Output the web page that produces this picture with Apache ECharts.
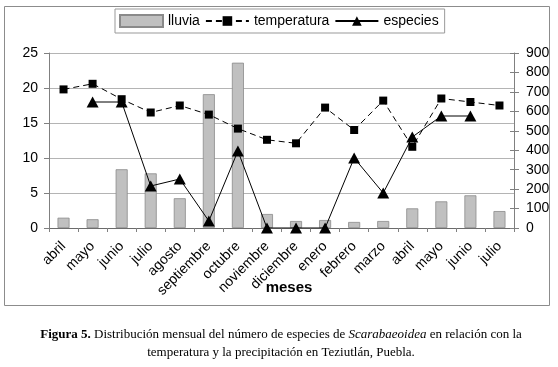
<!DOCTYPE html>
<html>
<head>
<meta charset="utf-8">
<script src="https://cdn.jsdelivr.net/npm/echarts@6/dist/echarts.min.js"></script>
<style>
html,body{margin:0;padding:0;background:#fff;}
#chart{width:558px;height:367px;}
</style>
</head>
<body>
<div id="chart"></div>
<script>
// ---- data ----
var categories = ['abril','mayo','junio','julio','agosto','septiembre','octubre','noviembre','diciembre','enero','febrero','marzo','abril','mayo','junio','julio'];
var lluvia = [53, 45, 302, 281, 153, 688, 850, 72, 36, 41, 31, 36, 101, 137, 168, 87];
var temperatura = [19.8, 20.6, 18.4, 16.5, 17.5, 16.2, 14.2, 12.6, 12.1, 17.2, 14.0, 18.2, 11.6, 18.5, 18.0, 17.5];
var especies = [null, 18, 18, 6, 7, 1, 11, 0, 0, 0, 10, 5, 13, 16, 16, null];
var seriesNames = ['lluvia', 'temperatura', 'especies'];
var axisName = 'meses';
var captionLine1 = '{b|Figura 5.} Distribución mensual del número de especies de {i|Scarabaeoidea} en relación con la';
var captionLine2 = 'temperatura y la precipitación en Teziutlán, Puebla.';

var SANS = '"Liberation Sans", Arial, sans-serif';
var SERIF = '"Liberation Serif", "Times New Roman", serif';

var chart = echarts.init(document.getElementById('chart'), null, {renderer: 'canvas'});
var option = {
  animation: false,
  backgroundColor: '#fff',
  textStyle: {fontFamily: SANS},
  grid: {left: 49, right: 44, top: 53, bottom: 139, containLabel: false},
  legend: {
    left: 115, top: 9,
    padding: [5, 6, 5, 4],
    itemGap: 5, itemWidth: 43, itemHeight: 12,
    borderColor: '#999', borderWidth: 1,
    textStyle: {fontSize: 14, fontFamily: SANS, color: '#000'},
    data: [{name: seriesNames[0], icon: 'rect'}, {name: seriesNames[1]}, {name: seriesNames[2]}]
  },
  xAxis: {
    type: 'category',
    data: categories,
    boundaryGap: true,
    axisLine: {lineStyle: {color: '#6b6b6b', width: 1}},
    axisTick: {show: true, length: 4, alignWithLabel: false, lineStyle: {color: '#808080'}},
    axisLabel: {interval: 0, rotate: 45, margin: 16, fontSize: 14, color: '#000', fontFamily: SANS},
    splitLine: {show: false}
  },
  yAxis: [
    {
      type: 'value', position: 'left', min: 0, max: 25, interval: 5,
      axisLine: {show: true, lineStyle: {color: '#808080'}},
      axisTick: {show: true, length: 5, lineStyle: {color: '#808080'}},
      axisLabel: {fontSize: 14, color: '#000', margin: 11, fontFamily: SANS},
      splitLine: {show: true, lineStyle: {color: '#b4b4b4', width: 1}}
    },
    {
      type: 'value', position: 'right', min: 0, max: 900, interval: 100,
      axisLine: {show: true, lineStyle: {color: '#808080'}},
      axisTick: {show: true, length: 5, lineStyle: {color: '#808080'}},
      axisLabel: {fontSize: 14, color: '#000', margin: 12, fontFamily: SANS},
      splitLine: {show: false}
    },
    {
      type: 'value', position: 'right', min: 0, max: 900, interval: 100,
      axisLine: {show: false},
      axisTick: {show: true, inside: true, length: 4, lineStyle: {color: '#808080'}},
      axisLabel: {show: false},
      splitLine: {show: false}
    }
  ],
  series: [
    {
      name: seriesNames[0], type: 'bar', yAxisIndex: 1, data: lluvia,
      barWidth: 12,
      itemStyle: {color: '#c0c0c0', borderColor: '#8a8a8a', borderWidth: 0.8}
    },
    {
      name: seriesNames[1], type: 'line', yAxisIndex: 0, data: temperatura,
      symbol: 'rect', symbolSize: 8,
      lineStyle: {color: '#000', width: 1, type: [6, 4]},
      itemStyle: {color: '#000'}
    },
    {
      name: seriesNames[2], type: 'line', yAxisIndex: 0, data: especies,
      symbol: 'triangle', symbolSize: [12, 11], connectNulls: false,
      lineStyle: {color: '#000', width: 1, type: 'solid'},
      itemStyle: {color: '#000'}
    }
  ],
  graphic: [
    {type: 'rect', silent: true, z: -1, shape: {x: 4.5, y: 6.5, width: 545, height: 299},
     style: {fill: 'none', stroke: '#8c8c8c', lineWidth: 1}},
    {type: 'text', x: 289, y: 288, silent: true,
     style: {text: axisName, fontFamily: SANS, fontSize: 15, fontWeight: 'bold', fill: '#000', align: 'center', verticalAlign: 'middle'}},
    {type: 'text', x: 281, y: 335, silent: true,
     style: {text: captionLine1, fontFamily: SERIF, fontSize: 13, fill: '#000', align: 'center', verticalAlign: 'middle',
       rich: {b: {fontWeight: 'bold', fontFamily: SERIF, fontSize: 13}, i: {fontStyle: 'italic', fontFamily: SERIF, fontSize: 13}}}},
    {type: 'text', x: 281, y: 353, silent: true,
     style: {text: captionLine2, fontFamily: SERIF, fontSize: 13, fill: '#000', align: 'center', verticalAlign: 'middle'}}
  ]
};
chart.setOption(option);
</script>
</body>
</html>
